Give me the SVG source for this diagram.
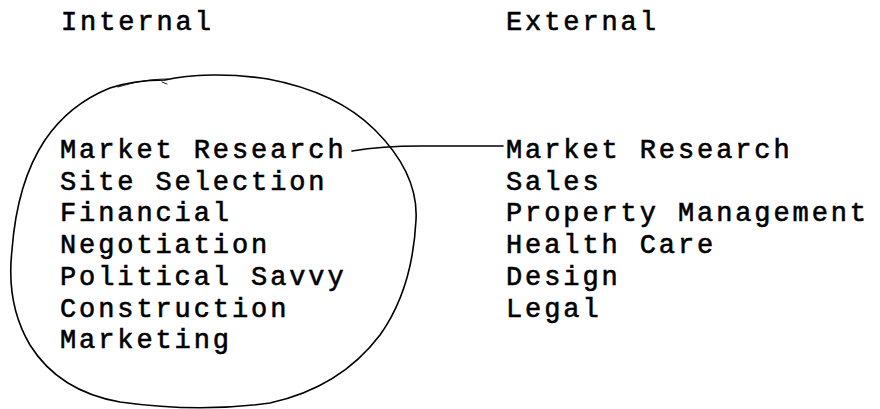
<svg xmlns="http://www.w3.org/2000/svg" width="880" height="409" viewBox="0 0 880 409">
<style>
text{font-family:"Liberation Mono","Courier New",monospace;font-size:27px;letter-spacing:2.9px;fill:#000;stroke:#000;stroke-width:0.6}
.ln{fill:none;stroke:#000;stroke-width:1.6;stroke-linecap:round;stroke-linejoin:round}
.thin{fill:none;stroke:#000;stroke-width:0.9;stroke-linecap:round}
</style>
<rect width="880" height="409" fill="#fff"/>
<g id="headers">
<text x="61" y="30">Internal</text>
<text x="506" y="30">External</text>
</g>
<g id="internal">
<path class="ln" d="M165,80 C190,74 230,73 268,79 C305,86 345,100 375,130 C400,155 418,185 416,220 C414,260 405,300 380,335 C355,368 320,392 270,403 C220,410 170,409 120,402 C80,395 50,377 30,345 C14,318 8,285 12,250 C15,210 25,170 45,140 C62,115 85,98 110,88 C125,83 140,80 165,80"/>
<path class="thin" d="M118,87 C135,82 150,79 168,79"/>
<path class="thin" d="M162,82 L167,84"/>
<text x="60" y="158">Market Research</text>
<text x="60" y="190">Site Selection</text>
<text x="60" y="221">Financial</text>
<text x="60" y="253">Negotiation</text>
<text x="60" y="285">Political Savvy</text>
<text x="60" y="317">Construction</text>
<text x="60" y="348">Marketing</text>
</g>
<g id="external">
<text x="506" y="158">Market Research</text>
<text x="506" y="190">Sales</text>
<text x="506" y="221">Property Management</text>
<text x="506" y="253">Health Care</text>
<text x="506" y="285">Design</text>
<text x="506" y="317">Legal</text>
</g>
<g id="connectors">
<path class="ln" d="M352,151 C370,148 390,146 420,146 L503,146"/>
</g>
</svg>
